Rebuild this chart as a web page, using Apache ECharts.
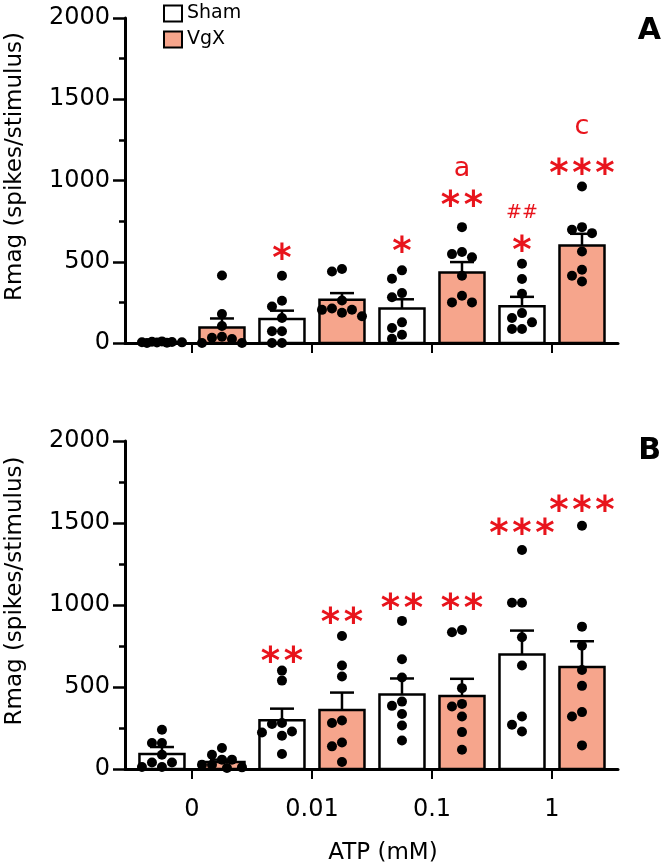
<!DOCTYPE html>
<html><head><meta charset="utf-8">
<script src="https://cdn.jsdelivr.net/npm/echarts@6/dist/echarts.min.js"></script>
<style>html,body{margin:0;padding:0;background:#fff}#c{width:665px;height:866px}</style>
</head><body><div id="c"></div>
<script>
// ---------- data ----------
const categories = ['0', '0.01', '0.1', '1'];
const yTicks = [0, 500, 1000, 1500, 2000];
const seriesNames = ['Sham', 'VgX'];

// Panel A
const A_shamMean = [5, 148, 212, 226];
const A_shamSem  = [2, 51, 57, 58];
const A_vgxMean  = [96, 266, 434, 600];
const A_vgxSem   = [55, 41, 64, 72];
const A_shamDots = [
  [0, 2, 4, 5, 6, 8, 3, 10],
  [414, 260, 225, 154, 72, 72, 0, 0],
  [447, 395, 307, 281, 127, 92, 51, 26],
  [488, 394, 303, 184, 154, 127, 86, 86]
];
const A_vgxDots = [
  [415, 178, 105, 38, 32, 25, 0, 0],
  [440, 455, 262, 212, 204, 186, 165, 205],
  [713, 560, 547, 527, 414, 291, 250, 250],
  [963, 713, 697, 676, 563, 451, 414, 379]
];
const A_annot = [
  {group: 1, series: 'Sham', y: 553, text: '*'},
  {group: 2, series: 'Sham', y: 594, text: '*'},
  {group: 2, series: 'VgX', y: 881, text: '**'},
  {group: 2, series: 'VgX', y: 1066, text: 'a'},
  {group: 3, series: 'Sham', y: 605, text: '*'},
  {group: 3, series: 'Sham', y: 800, text: '##'},
  {group: 3, series: 'VgX', y: 1076, text: '***'},
  {group: 3, series: 'VgX', y: 1322, text: 'c'}
];

// Panel B
const B_shamMean = [91, 298, 455, 698];
const B_shamSem  = [43, 70, 97, 146];
const B_vgxMean  = [42, 360, 445, 622];
const B_vgxSem   = [15, 106, 105, 157];
const B_shamDots = [
  [239, 158, 158, 87, 40, 40, 12, 12],
  [600, 539, 280, 274, 229, 223, 203, 91],
  [903, 669, 558, 411, 385, 335, 265, 174],
  [1335, 1014, 1014, 803, 631, 320, 270, 229]
];
const B_vgxDots = [
  [128, 87, 57, 57, 26, 26, 6, 10],
  [811, 631, 564, 296, 280, 162, 138, 43],
  [834, 848, 493, 397, 381, 320, 225, 117],
  [1483, 868, 752, 604, 507, 347, 320, 144]
];
const B_annot = [
  {group: 1, series: 'Sham', y: 690, text: '**'},
  {group: 1, series: 'VgX', y: 925, text: '**'},
  {group: 2, series: 'Sham', y: 1010, text: '**'},
  {group: 2, series: 'VgX', y: 1010, text: '**'},
  {group: 3, series: 'Sham', y: 1467, text: '***'},
  {group: 3, series: 'VgX', y: 1608, text: '***'}
];

// ---------- layout / style ----------
const FONT = 'DejaVu Sans';
const RED = '#e8141c';
const SALMON = '#f6a58c';
const W = 665;
const X_MIN = -0.558, X_MAX = 3.55;
const Y_MAX = yTicks[yTicks.length - 1];
const Y_INT = yTicks[1] - yTicks[0];
const grids = [
  {left: 125, right: 47, top: 18, height: 325, containLabel: false, outerBoundsMode: 'none'},
  {left: 125, right: 47, top: 441, height: 328, containLabel: false, outerBoundsMode: 'none'}
];
const pxPerX = (W - grids[0].left - grids[0].right) / (X_MAX - X_MIN);
const OFFSETS = {Sham: -0.25, VgX: 0.25};
const FILLS = {Sham: '#ffffff', VgX: SALMON};
const BAR_W = 0.375, CAP_W = 0.2, DOT = 10;

function swarm(values, pxPerY) {
  const order = values.map((v, i) => i).sort((a, b) => values[b] - values[a]);
  const cand = [0, -10, 10, -20, 20, -5, 5, -15, 15];
  const placed = [];
  const res = new Array(values.length);
  for (const i of order) {
    const py = values[i] * pxPerY;
    let best = 0, bestD = -1;
    for (const c of cand) {
      let md = Infinity;
      for (const p of placed) {
        const d = Math.hypot(p[0] - c, p[1] - py);
        if (d < md) md = d;
      }
      if (md >= DOT - 0.5) { best = c; bestD = md; break; }
      if (md > bestD) { bestD = md; best = c; }
    }
    placed.push([best, py]);
    res[i] = best;
  }
  return res;
}

function dotData(groups, off, pxPerY) {
  const out = [];
  groups.forEach((vals, g) => {
    const dx = swarm(vals, pxPerY);
    vals.forEach((v, k) => out.push([g + off + dx[k] / pxPerX, v]));
  });
  return out;
}

function barSeries(name, gi, means, sems) {
  const off = OFFSETS[name], fill = FILLS[name];
  return {
    type: 'custom', name: name, xAxisIndex: gi, yAxisIndex: gi, z: 2,
    itemStyle: {color: fill, borderColor: '#000'},
    encode: {x: 0, y: 1},
    data: means.map((m, i) => [i, m, sems[i]]),
    renderItem: function (params, api) {
      const x = api.value(0) + off, m = api.value(1), s = api.value(2);
      const b = api.coord([x, 0]), t = api.coord([x, m]), e = api.coord([x, m + s]);
      const w = api.size([BAR_W, 0])[0], cw = api.size([CAP_W, 0])[0];
      return {type: 'group', children: [
        {type: 'rect', shape: {x: b[0] - w / 2, y: t[1], width: w, height: b[1] - t[1]},
         style: {fill: fill, stroke: '#000', lineWidth: 2.5}},
        {type: 'line', shape: {x1: t[0], y1: t[1], x2: e[0], y2: e[1]},
         style: {stroke: '#000', lineWidth: 2.5}},
        {type: 'line', shape: {x1: e[0] - cw / 2, y1: e[1], x2: e[0] + cw / 2, y2: e[1]},
         style: {stroke: '#000', lineWidth: 2.5}}
      ]};
    }
  };
}

function dotSeries(name, gi, groups) {
  const pxPerY = grids[gi].height / Y_MAX;
  return {
    type: 'scatter', name: name + ' pts', xAxisIndex: gi, yAxisIndex: gi, z: 5,
    symbol: 'circle', symbolSize: DOT, itemStyle: {color: '#000', opacity: 1},
    data: dotData(groups, OFFSETS[name], pxPerY)
  };
}

function annotSeries(gi, list) {
  return {
    type: 'custom', name: 'annot' + gi, xAxisIndex: gi, yAxisIndex: gi, z: 6, clip: false,
    encode: {x: 0, y: 1},
    data: list.map(a => [a.group + OFFSETS[a.series], a.y]),
    renderItem: function (params, api) {
      const a = list[params.dataIndex];
      const p = api.coord([api.value(0), api.value(1)]);
      let fs, weight = 'normal', dy = 0, txt = a.text;
      if (/^\*+$/.test(a.text)) { fs = 37; weight = 'bold'; dy = 0.2 * fs; txt = a.text.split('').join('\u200A'); }
      else if (a.text[0] === '#') { fs = 19; }
      else { fs = 27; dy = -1; }
      return {type: 'text', x: p[0], y: p[1] + dy,
        style: {text: txt, fill: RED, font: weight + ' ' + fs + 'px "' + FONT + '"',
                align: 'center', verticalAlign: 'middle'}};
    }
  };
}

function xAxis(gi) {
  const showLabels = gi === 1;
  return {
    type: 'value', gridIndex: gi, min: X_MIN, max: X_MAX,
    splitLine: {show: false},
    axisLine: {show: true, onZero: false, lineStyle: {color: '#000', width: 3}},
    axisTick: {show: true, customValues: [0, 1, 2, 3], length: 10, lineStyle: {color: '#000', width: 2}},
    axisLabel: {show: showLabels, customValues: [0, 1, 2, 3], formatter: v => categories[Math.round(v)],
                fontSize: 24, fontFamily: FONT, color: '#000', margin: 29},
    name: showLabels ? 'ATP (mM)' : '', nameLocation: 'middle', nameGap: 73,
    nameTextStyle: {fontSize: 23, fontFamily: FONT, color: '#000', padding: [0, 0, 0, 23]}
  };
}

function yAxis(gi) {
  return {
    type: 'value', gridIndex: gi, min: yTicks[0], max: Y_MAX, interval: Y_INT,
    splitLine: {show: false},
    axisLine: {show: true, onZero: false, lineStyle: {color: '#000', width: 3}},
    axisTick: {show: true, length: 12, lineStyle: {color: '#000', width: 2.5}},
    minorTick: {show: true, splitNumber: 2, length: 6, lineStyle: {color: '#000', width: 2.5}},
    minorSplitLine: {show: false},
    axisLabel: {fontSize: 24, fontFamily: FONT, color: '#000', margin: 15, formatter: v => String(v)},
    name: 'Rmag (spikes/stimulus)', nameLocation: 'middle', nameGap: 98,
    nameTextStyle: {fontSize: 23, fontFamily: FONT, color: '#000', padding: [0, 0, 0, 28]}
  };
}

const chart = echarts.init(document.getElementById('c'), null, {renderer: 'canvas'});
chart.setOption({
  animation: false,
  backgroundColor: '#fff',
  title: [
    {text: 'A', right: 4, top: 16, padding: 0, textStyle: {fontSize: 30, fontWeight: 'bold', fontFamily: FONT, color: '#000'}},
    {text: 'B', right: 4, top: 436, padding: 0, textStyle: {fontSize: 30, fontWeight: 'bold', fontFamily: FONT, color: '#000'}}
  ],
  legend: {
    orient: 'vertical', left: 163, top: 4, padding: 0, itemWidth: 18, itemHeight: 16, itemGap: 7,
    selectedMode: false,
    textStyle: {fontSize: 19, fontFamily: FONT, color: '#000'},
    data: [
      {name: seriesNames[0], icon: 'rect', itemStyle: {color: FILLS.Sham, borderColor: '#000', borderWidth: 2}},
      {name: seriesNames[1], icon: 'rect', itemStyle: {color: FILLS.VgX, borderColor: '#000', borderWidth: 2}}
    ]
  },
  grid: grids,
  xAxis: [xAxis(0), xAxis(1)],
  yAxis: [yAxis(0), yAxis(1)],
  series: [
    barSeries('Sham', 0, A_shamMean, A_shamSem),
    barSeries('VgX', 0, A_vgxMean, A_vgxSem),
    dotSeries('Sham', 0, A_shamDots),
    dotSeries('VgX', 0, A_vgxDots),
    annotSeries(0, A_annot),
    barSeries('Sham', 1, B_shamMean, B_shamSem),
    barSeries('VgX', 1, B_vgxMean, B_vgxSem),
    dotSeries('Sham', 1, B_shamDots),
    dotSeries('VgX', 1, B_vgxDots),
    annotSeries(1, B_annot)
  ]
});
</script>
</body></html>
